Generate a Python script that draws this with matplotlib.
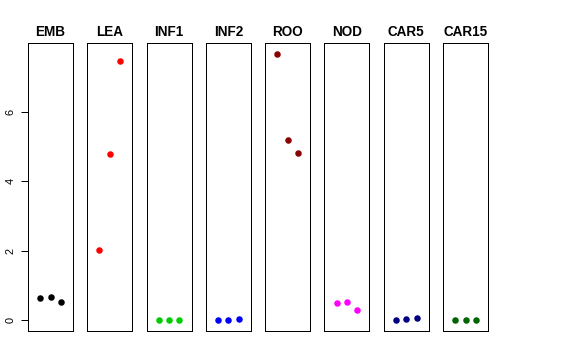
import numpy as np
import matplotlib
matplotlib.use("Agg")
import matplotlib.pyplot as plt

plt.rcParams['font.family'] = ['Liberation Sans', 'DejaVu Sans']

# one panel per tissue, three replicates each
tissues = ["EMB", "LEA", "INF1", "INF2", "ROO", "NOD", "CAR5", "CAR15"]
colors = ["black", "red", "#00CD00", "blue", "#8B0000", "magenta", "#000080", "#006400"]
emb = [0.63, 0.66, 0.54]
lea = [2.02, 4.77, 7.47]
inf1 = [0.01, 0.0, 0.0]
inf2 = [0.0, 0.0, 0.05]
roo = [7.67, 5.20, 4.81]
nod = [0.51, 0.54, 0.31]
car5 = [0.02, 0.05, 0.08]
car15 = [0.01, 0.0, 0.0]
values = [emb, lea, inf1, inf2, roo, nod, car5, car15]
reps = [1, 2, 3]

fig = plt.figure(figsize=(8, 5), dpi=72)

W, H = 576.0, 360.0
ymin = min(min(v) for v in values)
ymax = max(max(v) for v in values)
pad = 0.04 * (ymax - ymin)

for i, (name, col, vals) in enumerate(zip(tissues, colors, values)):
    left = 28 + i * 59.29
    ax = fig.add_axes([left / W, 29 / H, 45 / W, 288 / H])
    ax.plot(reps, vals, 'o', color=col, markersize=6.5, markeredgewidth=0)
    ax.set_xlim(0 - 0.16, 4 + 0.16)
    ax.set_ylim(ymin - pad, ymax + pad)
    ax.set_xticks([])
    ax.set_title(name, fontsize=13.5, fontweight='bold', pad=7)
    for s in ax.spines.values():
        s.set_linewidth(1.0)
    if i == 0:
        ax.set_yticks([0, 2, 4, 6])
        ax.set_yticklabels(["0", "2", "4", "6"], rotation=90, va='center', fontsize=11)
        ax.tick_params(axis='y', length=7, width=1, pad=5)
    else:
        ax.set_yticks([])

fig.savefig("out.png", dpi=72)
